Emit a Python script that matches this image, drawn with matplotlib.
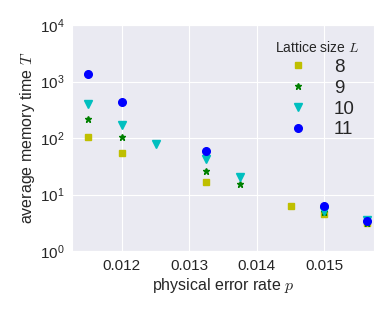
import matplotlib
matplotlib.use('Agg')
import matplotlib.pyplot as plt
import seaborn as sns

sns.set_style('darkgrid')
plt.rcParams['font.family'] = ['Liberation Sans', 'DejaVu Sans']
plt.rcParams['mathtext.fontset'] = 'cm'

p8 = [0.0115, 0.012, 0.01325, 0.0145, 0.015, 0.015625]
T8 = [105, 55, 17, 6.4, 4.5, 3.1]
p9 = [0.0115, 0.012, 0.01325, 0.01375, 0.015, 0.015625]
T9 = [214, 105, 26.5, 15.3, 4.9, 3.2]
p10 = [0.0115, 0.012, 0.0125, 0.01325, 0.01375, 0.015, 0.015625]
T10 = [395, 172, 78, 43, 20.6, 5.2, 3.5]
p11 = [0.0115, 0.012, 0.01325, 0.015, 0.015625]
T11 = [1350, 435, 59, 6.2, 3.4]

fig, ax = plt.subplots(figsize=(3.88, 3.12), dpi=100)
ax.plot(p8, T8, 's', color='y', ms=5, label='8')
ax.plot(p9, T9, '*', color='g', ms=5, label='9')
ax.plot(p10, T10, 'v', color='c', ms=5.5, label='10')
ax.plot(p11, T11, 'o', color='b', ms=5.5, label='11')
ax.set_yscale('log')
ax.set_ylim(1, 1e4)
ax.set_xlim(0.011264, 0.015736)
ax.set_xticks([0.012, 0.013, 0.014, 0.015])
ax.tick_params(labelsize=11, pad=2)
ax.set_xlabel('physical error rate $p$', fontsize=11.5, labelpad=2)
ax.set_ylabel('average memory time $T$', fontsize=11.5, labelpad=2)
leg = ax.legend(title='Lattice size $L$', fontsize=13.5, title_fontsize=10,
                frameon=False, loc='upper right', handletextpad=0.9,
                labelspacing=0.2, borderaxespad=0.4)
fig.subplots_adjust(left=0.186, right=0.964, top=0.92, bottom=0.195)
fig.savefig('out.png')
